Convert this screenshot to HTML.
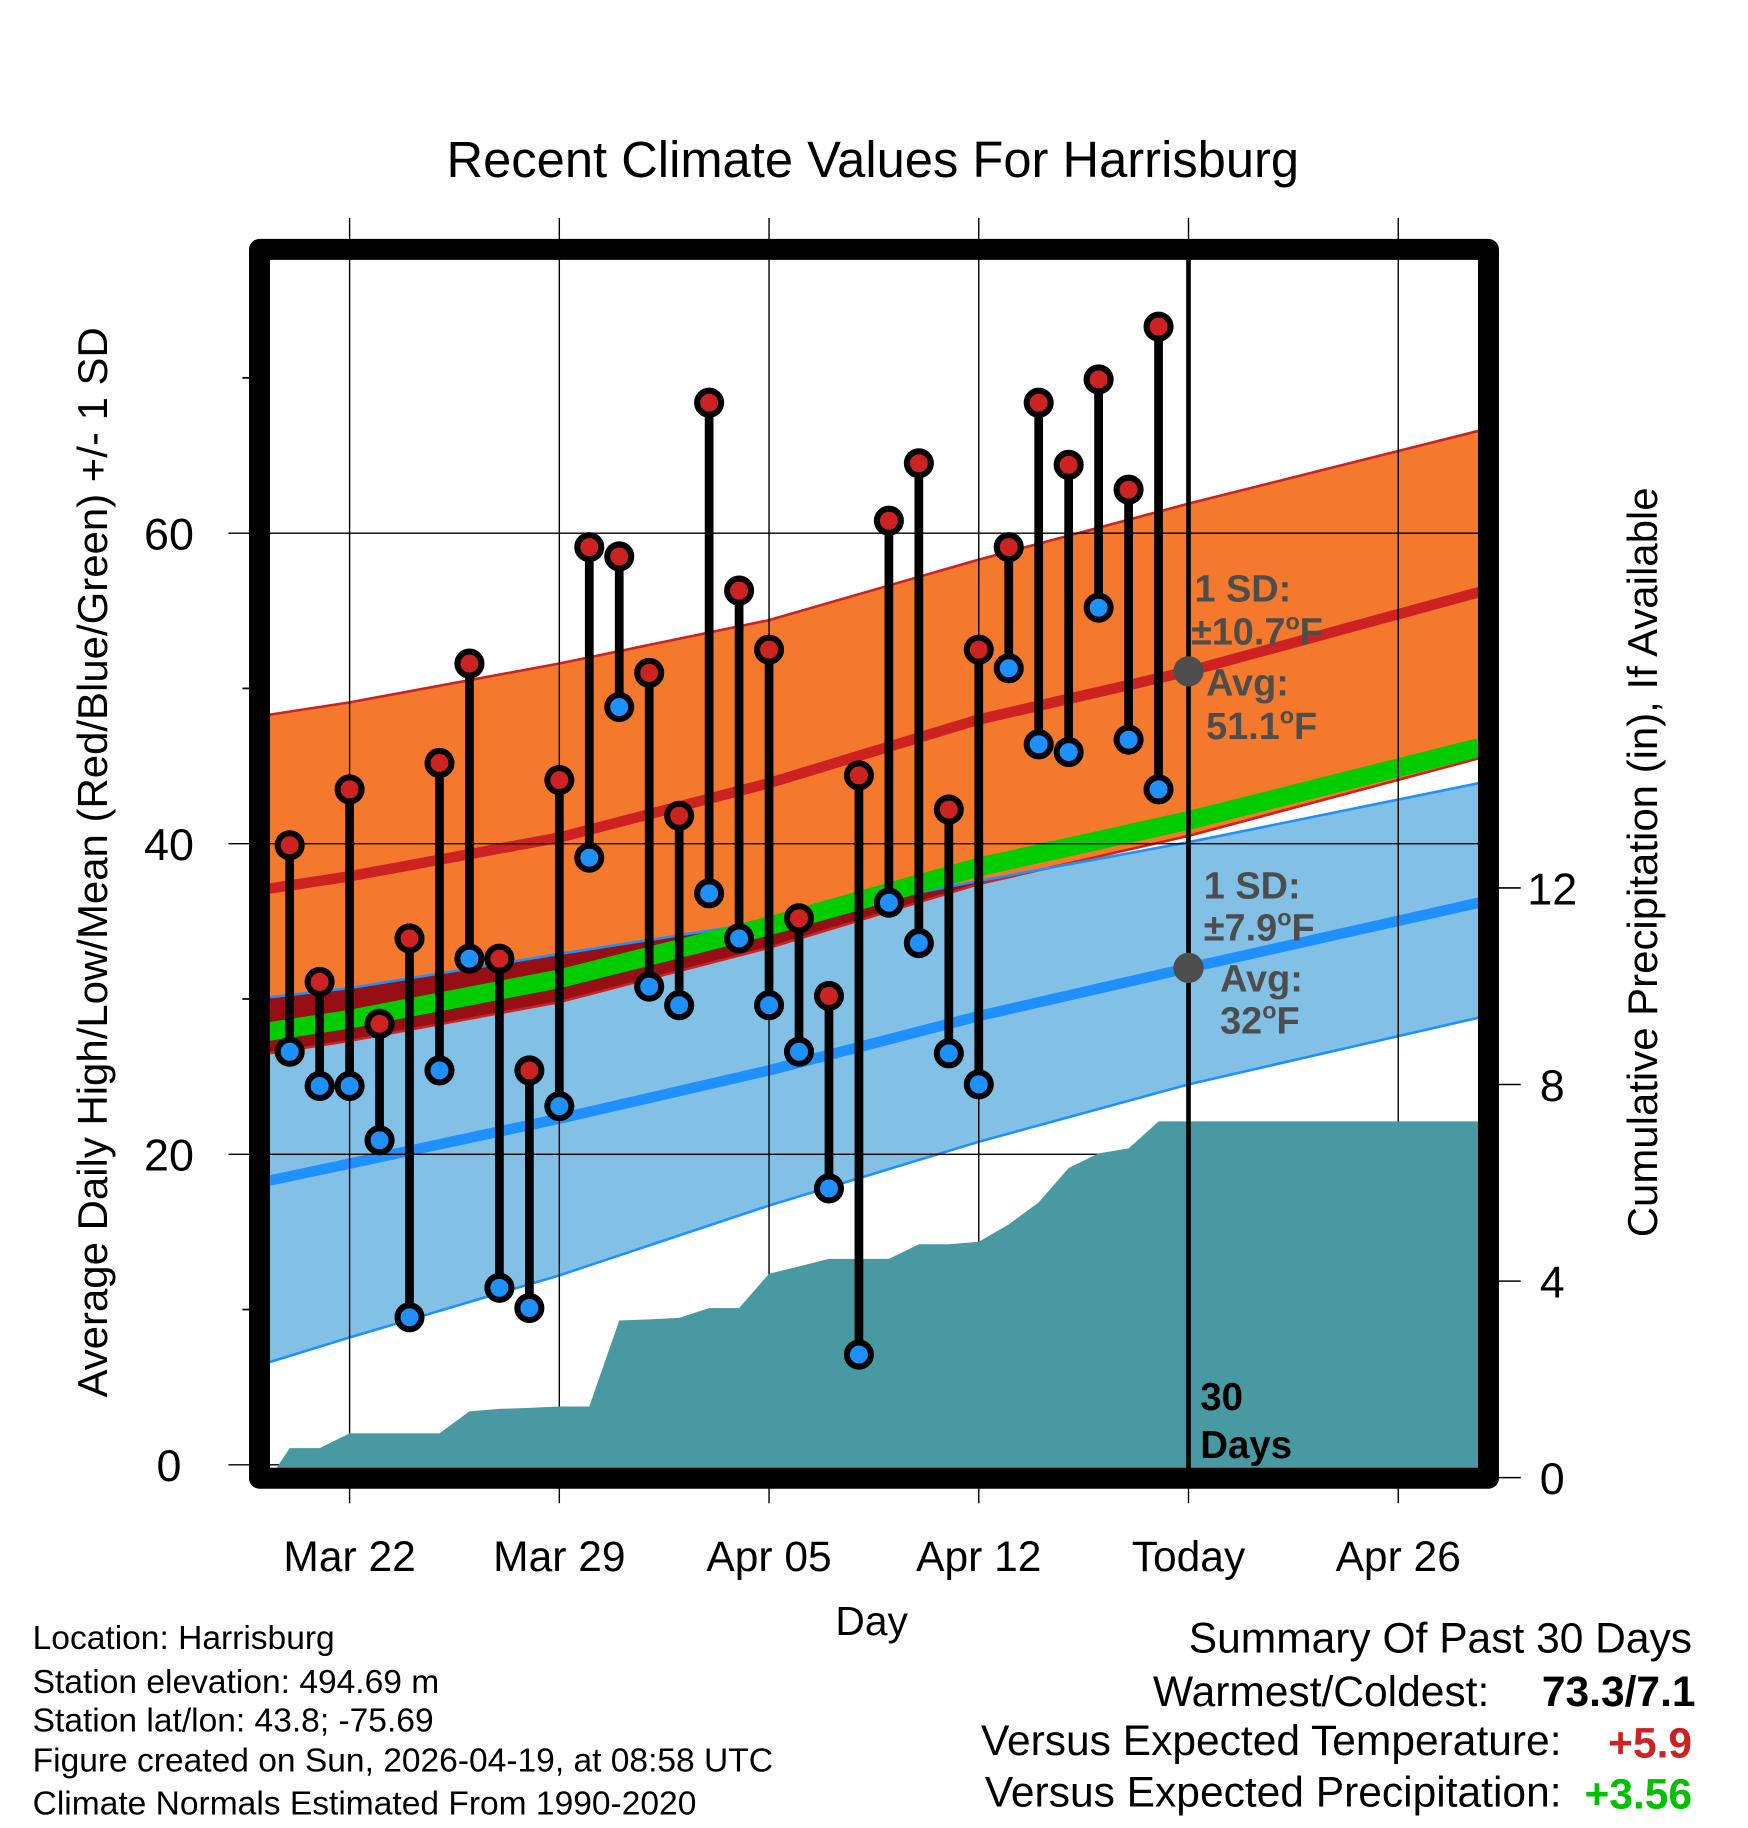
<!DOCTYPE html>
<html><head><meta charset="utf-8"><style>
html,body{margin:0;padding:0;background:#fff}
svg{display:block;font-family:"Liberation Sans",sans-serif}
</style></head><body>
<svg id="chart" width="1748" height="1828" viewBox="0 0 1500 1568.65" xmlns="http://www.w3.org/2000/svg">
<defs><clipPath id="plotclip"><rect x="231.7" y="223" width="1036.6" height="1037"/></clipPath></defs>
<g id="bands" clip-path="url(#plotclip)"></g>
<g id="axes"></g>
<g id="marks"></g>
<text x="749" y="152" font-size="43.5" text-anchor="middle">Recent Climate Values For Harrisburg</text>
<text transform="translate(92,740) rotate(-90)" font-size="36" text-anchor="middle">Average Daily High/Low/Mean (Red/Blue/Green) +/- 1 SD</text>
<text transform="translate(1422,740) rotate(-90)" font-size="36" text-anchor="middle">Cumulative Precipitation (in), If Available</text>
<text x="748" y="1403" font-size="35" text-anchor="middle">Day</text>
<g font-weight="bold" fill="#4d4d4d" font-size="32.5">
<text x="1025" y="516">1 SD:</text>
<text x="1022" y="553">±10.7<tspan dy="-13" font-size="20">o</tspan><tspan dy="13">F</tspan></text>
<text x="1035" y="597">Avg:</text>
<text x="1035" y="634">51.1<tspan dy="-13" font-size="20">o</tspan><tspan dy="13">F</tspan></text>
</g>
<g font-weight="bold" fill="#4d4d4d" font-size="32.5">
<text x="1033" y="771">1 SD:</text>
<text x="1033" y="807">±7.9<tspan dy="-13" font-size="20">o</tspan><tspan dy="13">F</tspan></text>
<text x="1047" y="851">Avg:</text>
<text x="1047" y="887">32<tspan dy="-13" font-size="20">o</tspan><tspan dy="13">F</tspan></text>
</g>
<g font-weight="bold" font-size="33">
<text x="1030" y="1210">30</text><text x="1030" y="1251">Days</text>
</g>
<g font-size="28.8">
<text x="28" y="1415">Location: Harrisburg</text>
<text x="28" y="1453">Station elevation: 494.69 m</text>
<text x="28" y="1486">Station lat/lon: 43.8; -75.69</text>
<text x="28" y="1520">Figure created on Sun, 2026-04-19, at 08:58 UTC</text>
<text x="28" y="1557">Climate Normals Estimated From 1990-2020</text>
</g>
<g font-size="36.5">
<text x="1452" y="1418" text-anchor="end">Summary Of Past 30 Days</text>
<text x="1278" y="1464" text-anchor="end">Warmest/Coldest:</text>
<text x="1455" y="1464" text-anchor="end" font-weight="bold">73.3/7.1</text>
<text x="1340" y="1506" text-anchor="end">Versus Expected Temperature:</text>
<text x="1452" y="1508" text-anchor="end" font-weight="bold" fill="#cc2222">+5.9</text>
<text x="1340" y="1550" text-anchor="end">Versus Expected Precipitation:</text>
<text x="1452" y="1552" text-anchor="end" font-weight="bold" fill="#00c000">+3.56</text>
</g>
</svg>
<script>
// day offsets from Mar 22
const days = [-2,-1,0,1,2,3,4,5,6,7,8,9,10,11,12,13,14,15,16,17,18,19,20,21,22,23,24,25,26,27];
const highs = [39.9,31.1,43.5,28.4,33.9,45.2,51.6,32.6,25.4,44.1,59.1,58.5,51.0,41.8,68.4,56.3,52.5,35.2,30.2,44.4,60.8,64.5,42.2,52.5,59.1,68.4,64.4,69.9,62.8,73.3];
const lows = [26.6,24.4,24.4,20.9,9.5,25.4,32.6,11.4,10.1,23.1,39.1,48.8,30.8,29.6,36.8,33.9,29.6,26.6,17.8,7.1,36.2,33.6,26.5,24.5,51.3,46.4,45.9,55.2,46.7,43.5];
const precip = [0.6,0.6,0.9,0.9,0.9,0.9,1.35,1.4,1.42,1.45,1.45,3.2,3.22,3.25,3.45,3.45,4.15,4.3,4.45,4.45,4.45,4.75,4.75,4.8,5.15,5.6,6.3,6.6,6.7,7.25];
// normals at node days
const normDays = [-2.7,0,7,14,21,28,37.7];
const hiAvg = [37.1,37.9,40.4,43.9,48.0,51.1,56.2];
const hiTop = [48.3,49.1,51.6,54.4,58.3,61.9,66.6];
const hiBot = [26.5,27.3,29.8,33.3,37.4,40.5,45.5];
const loAvg = [18.3,19.4,22.3,25.4,28.9,32.0,36.2];
const loTop = [30.1,30.7,32.9,35.0,37.6,40.1,43.9];
const loBot = [6.6,8.2,12.2,16.7,20.8,24.5,28.8];
const meanAvg = [27.9,28.7,31.3,34.7,38.5,41.5,46.2];
const xTickDays = [0,7,14,21,28,35];
const xTickLabels = ["Mar 22","Mar 29","Apr 05","Apr 12","Today","Apr 26"];
const yTicks = [0,20,40,60];
const yMinor = [10,30,50,70];
const y2Ticks = [0,4,8,12];
const todayDay = 28;

const X = d => 300 + d*25.71;
const Y = v => 1257 - v*13.325;
const YP = p => 1268 - p*42.17;
const L = 231.7, R = 1268.3, T = 223, B = 1260;
const NS = 'http://www.w3.org/2000/svg';
function mk(parent, tag, attrs){ const e=document.createElementNS(NS,tag); for(const k in attrs) e.setAttribute(k,attrs[k]); parent.appendChild(e); return e; }
const bands=document.getElementById('bands'), axes=document.getElementById('axes'), marks=document.getElementById('marks');
const line = arr => normDays.map((d,i)=>X(d).toFixed(1)+','+Y(arr[i]).toFixed(1)).join(' ');
const band = (top,bot) => line(top)+' '+normDays.map((d,i)=>[d,bot[i]]).reverse().map(p=>X(p[0]).toFixed(1)+','+Y(p[1]).toFixed(1)).join(' ');

let e;
e=mk(bands,'polygon',{points:band(hiTop,hiBot),fill:'#f5792d'});
 
e=mk(bands,'polygon',{points:band(loTop,loBot),fill:'#82c0e6'});
 
const cp=mk(bands,'clipPath',{id:'hiclip'}); mk(cp,'polygon',{points:band(hiTop,hiBot)});
e=mk(bands,'polygon',{points:band(loTop,loBot),fill:'#950f14','clip-path':'url(#hiclip)'});
 
[[hiTop,'#cc2222'],[hiBot,'#cc2222'],[loTop,'#1e90ff'],[loBot,'#1e90ff']].forEach(a=>{
  e=mk(bands,'polyline',{points:line(a[0]),fill:'none',stroke:a[1],'stroke-width':2.2});
   
});
e=mk(bands,'polyline',{points:line(meanAvg),fill:'none',stroke:'#00cc00','stroke-width':16});
 
e=mk(bands,'polyline',{points:line(hiAvg),fill:'none',stroke:'#cc2222','stroke-width':9});
 
e=mk(bands,'polyline',{points:line(loAvg),fill:'none',stroke:'#1e90ff','stroke-width':9});
 

xTickDays.forEach(d=>{
  e=mk(axes,'line',{x1:X(d),x2:X(d),y1:187,y2:1290,stroke:'#000','stroke-width':1.2});
   
});
yTicks.forEach(v=>{
  e=mk(axes,'line',{x1:196,x2:R,y1:Y(v),y2:Y(v),stroke:'#000','stroke-width':1.2});
   
});
let pts=[[L,YP(0)]]; days.forEach((d,i)=>pts.push([X(d),YP(precip[i])])); pts.push([R,YP(precip[precip.length-1])]); pts.push([R,YP(0)]);
e=mk(axes,'polygon',{points:pts.map(p=>p[0].toFixed(1)+','+p[1].toFixed(1)).join(' '),fill:'#4899a2'});
 
e=mk(axes,'line',{x1:X(todayDay),x2:X(todayDay),y1:T,y2:B,stroke:'#000','stroke-width':4});
 
e=mk(axes,'rect',{x:222.7,y:214,width:1054.6,height:1054.5,fill:'none',stroke:'#000','stroke-width':18,'stroke-linejoin':'round'});
 
yTicks.forEach(v=>{
  e=mk(axes,'text',{x:145,y:Y(v)+14,'font-size':38.5,'text-anchor':'middle'}); e.textContent=v;
   
});
yMinor.forEach(v=>{
  e=mk(axes,'line',{x1:208,x2:214,y1:Y(v),y2:Y(v),stroke:'#000','stroke-width':1.5});
   
});
y2Ticks.forEach(p=>{
  e=mk(axes,'line',{x1:1286,x2:1305,y1:YP(p),y2:YP(p),stroke:'#000','stroke-width':1.3});
   
  e=mk(axes,'text',{x:1332,y:YP(p)+14,'font-size':38.5,'text-anchor':'middle'}); e.textContent=p;
   
});
xTickDays.forEach((d,i)=>{
  e=mk(axes,'text',{x:X(d),y:1348,'font-size':36.5,'text-anchor':'middle'}); e.textContent=xTickLabels[i];
   
});
days.forEach((d,i)=>{
  e=mk(marks,'line',{x1:X(d),x2:X(d),y1:Y(highs[i]),y2:Y(lows[i]),stroke:'#000','stroke-width':7.5});
   
  e=mk(marks,'circle',{cx:X(d),cy:Y(highs[i]),r:10.3,fill:'#cc2222',stroke:'#000','stroke-width':5.2});
   
  e=mk(marks,'circle',{cx:X(d),cy:Y(lows[i]),r:10.3,fill:'#1e90ff',stroke:'#000','stroke-width':5.2});
   
});
const hiToday = hiAvg[5], loToday = loAvg[5];
e=mk(marks,'circle',{cx:X(todayDay),cy:Y(hiToday),r:13,fill:'#4d4d4d'});
 
e=mk(marks,'circle',{cx:X(todayDay),cy:Y(loToday),r:13,fill:'#4d4d4d'});
 
</script>
</body></html>
